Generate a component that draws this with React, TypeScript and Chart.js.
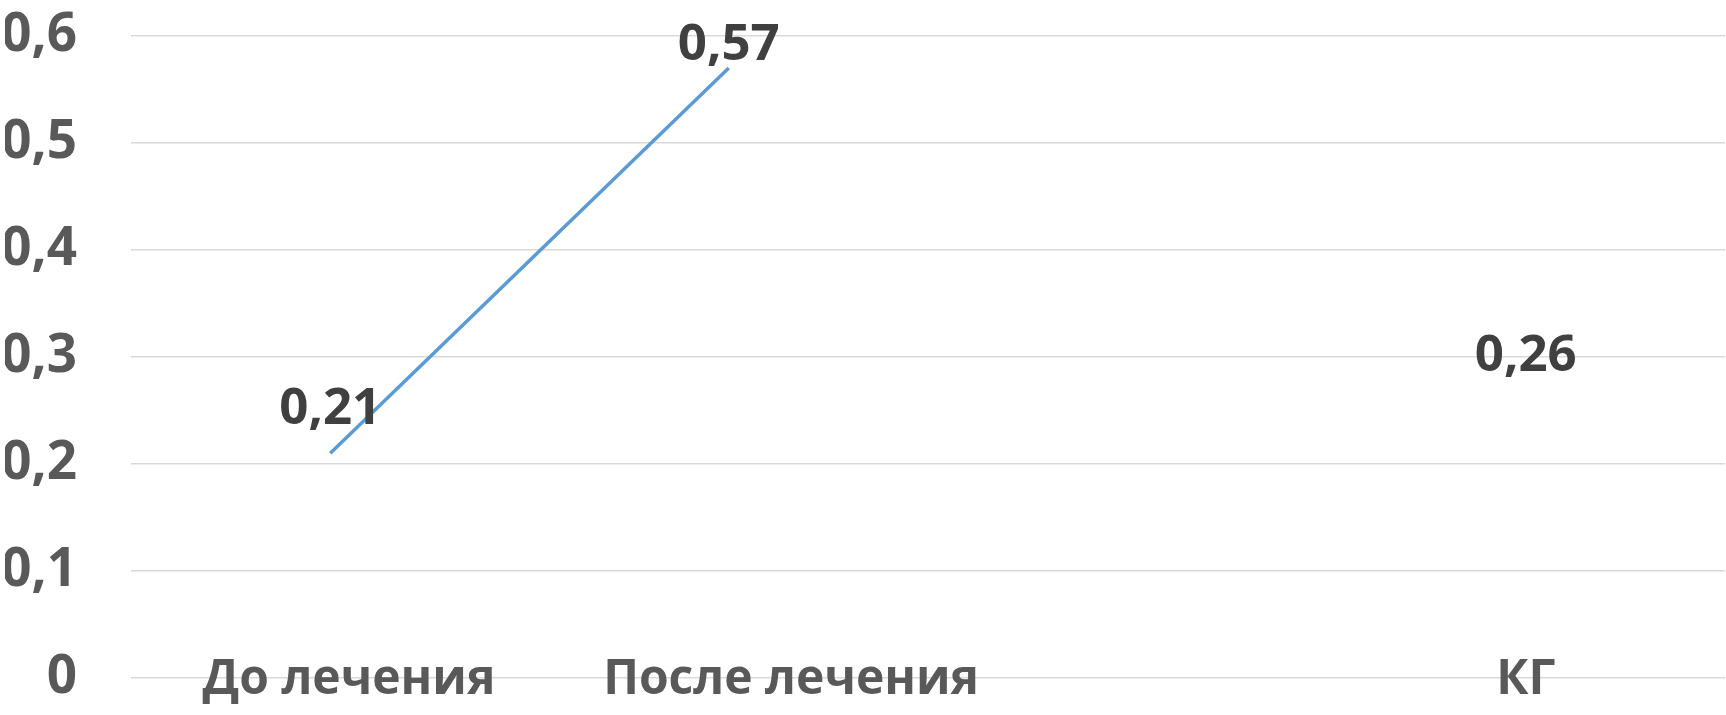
import React, { useEffect, useRef } from "react";
import { Chart, registerables } from "chart.js";

Chart.register(...registerables);

const categories = ["До лечения", "После лечения", "", "КГ"];
const values: (number | null)[] = [0.21, 0.57, null, 0.26];
const yTicks = [0, 0.1, 0.2, 0.3, 0.4, 0.5, 0.6];
// leading non-breaking spaces reproduce the label drift of the original picture
const labelLead = [3, 10, 0, 0];

const fmt = (v: number) => String(Math.round(v * 100) / 100).replace(".", ",");

const FONT = "'Open Sans', 'Noto Sans', sans-serif";

const dataLabels = {
  id: "dataLabels",
  afterDatasetsDraw(chart: any) {
    const ctx = chart.ctx;
    const ds = chart.data.datasets[0].data;
    ctx.save();
    ctx.font = `bold 51px ${FONT}`;
    ctx.fillStyle = "#404040";
    ctx.textAlign = "center";
    ctx.textBaseline = "alphabetic";
    ds.forEach((v: any, i: number) => {
      if (v === null || v === undefined) return;
      const x = chart.scales.x.getPixelForValue(i);
      const y = chart.scales.y.getPixelForValue(v);
      const base = Math.max(y - 29, chart.chartArea.top + 24);
      ctx.fillText(fmt(v), x, base);
    });
    ctx.restore();
  },
};

export default function App() {
  const ref = useRef<HTMLCanvasElement>(null);
  useEffect(() => {
    document.body.style.margin = "0";
    const chart = new Chart(ref.current!, {
      type: "line",
      data: {
        labels: categories,
        datasets: [
          {
            data: values,
            borderColor: "#5B9BD5",
            borderWidth: 3.5,
            pointRadius: 0,
            spanGaps: false,
            tension: 0,
          },
        ],
      },
      options: {
        animation: false,
        responsive: false,
        layout: { padding: { top: 36, right: 1, left: 5, bottom: 0 } },
        plugins: { legend: { display: false }, tooltip: { enabled: false } },
        scales: {
          x: {
            offset: true,
            grid: { display: false, drawTicks: false },
            border: { display: false },
            afterFit: (s: any) => {
              s.height = 37;
              s.paddingLeft = 0;
              s.paddingRight = 0;
            },
            ticks: {
              color: "#595959",
              font: { family: FONT, size: 48, weight: "bold" },
              mirror: true,
              padding: -31,
              maxRotation: 0,
              autoSkip: false,
              callback: (_v: any, i: number) =>
                "\u00A0".repeat(labelLead[i]) + categories[i],
            },
          },
          y: {
            min: 0,
            max: 0.6,
            afterBuildTicks: (s: any) => {
              s.ticks = yTicks.map((v) => ({ value: v }));
            },
            afterFit: (s: any) => {
              s.width = 126;
              s.paddingTop = 0;
              s.paddingBottom = 0;
            },
            grid: { color: "#D9D9D9", lineWidth: 1.5, drawTicks: false },
            border: { display: false },
            ticks: {
              color: "#595959",
              font: { family: FONT, size: 53, weight: "bold" },
              padding: 54,
              callback: (v: any) => fmt(Number(v)),
            },
          },
        },
      },
      plugins: [dataLabels],
    });
    return () => chart.destroy();
  }, []);
  return (
    <div style={{ width: 1726, height: 715 }}>
      <canvas ref={ref} width={1726} height={715} />
    </div>
  );
}
